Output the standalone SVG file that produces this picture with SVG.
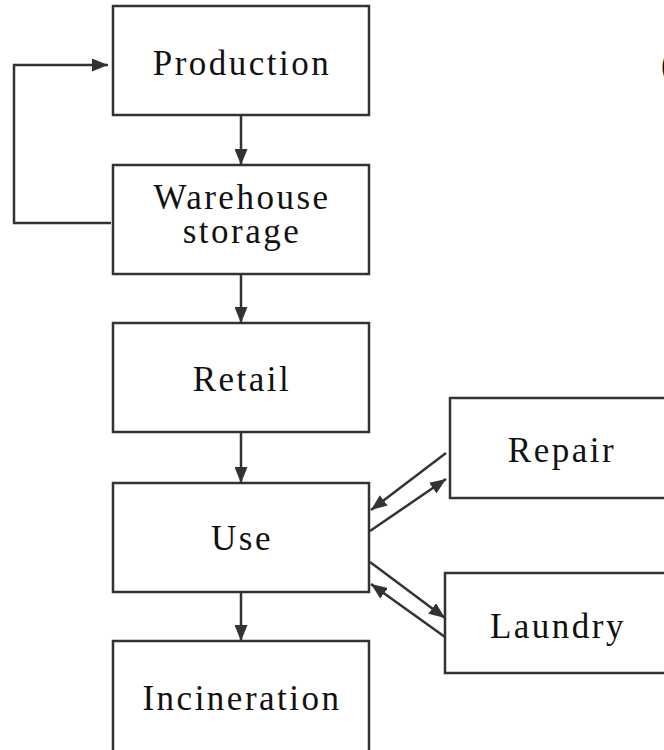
<svg xmlns="http://www.w3.org/2000/svg" width="664" height="750" viewBox="0 0 664 750">
<style>
.box{fill:#fff;stroke:#333;stroke-width:2.5}
.lbl{font-family:'Liberation Serif','Times New Roman',serif;font-size:35px;letter-spacing:2.5px;fill:#111;text-anchor:middle}
.con{fill:none;stroke:#333;stroke-width:2.5}
</style>
<defs>
<marker id="ah" markerUnits="userSpaceOnUse" markerWidth="16" markerHeight="13" refX="16" refY="6.5" orient="auto">
<path d="M0,0 L16,6.5 L0,13 z" fill="#333"/>
</marker>
</defs>
<rect x="0" y="0" width="664" height="750" fill="#fff"/>
<g id="production"><rect class="box" x="113" y="6" width="256" height="109"/><text class="lbl" x="242" y="75">Production</text></g>
<g id="warehouse"><rect class="box" x="113" y="165" width="256" height="109"/><text class="lbl" x="242" y="209">Warehouse</text><text class="lbl" x="242" y="243">storage</text></g>
<g id="retail"><rect class="box" x="113" y="323" width="256" height="109"/><text class="lbl" x="242" y="391">Retail</text></g>
<g id="use"><rect class="box" x="113" y="483" width="256" height="109"/><text class="lbl" x="242" y="550">Use</text></g>
<g id="incineration"><rect class="box" x="113" y="641" width="256" height="111"/><text class="lbl" x="242" y="710">Incineration</text></g>
<g id="repair"><rect class="box" x="450" y="398" width="224" height="100"/><text class="lbl" x="562" y="462">Repair</text></g>
<g id="laundry"><rect class="box" x="445" y="573" width="224" height="100"/><text class="lbl" x="558" y="638">Laundry</text></g>
<g id="fragment"><text class="lbl" x="668" y="76">(</text></g>
<g id="connectors">
<line class="con" x1="241" y1="115" x2="241" y2="165" marker-end="url(#ah)"/>
<line class="con" x1="241" y1="274" x2="241" y2="323" marker-end="url(#ah)"/>
<line class="con" x1="241" y1="432" x2="241" y2="483" marker-end="url(#ah)"/>
<line class="con" x1="241" y1="592" x2="241" y2="641" marker-end="url(#ah)"/>
<path class="con" d="M111,223 H14 V65 H108" marker-end="url(#ah)"/>
<line class="con" x1="446" y1="453" x2="371" y2="510" marker-end="url(#ah)"/>
<line class="con" x1="370" y1="531" x2="446" y2="479" marker-end="url(#ah)"/>
<line class="con" x1="370" y1="562" x2="445" y2="618" marker-end="url(#ah)"/>
<line class="con" x1="445" y1="637" x2="371" y2="584" marker-end="url(#ah)"/>
</g>
</svg>
